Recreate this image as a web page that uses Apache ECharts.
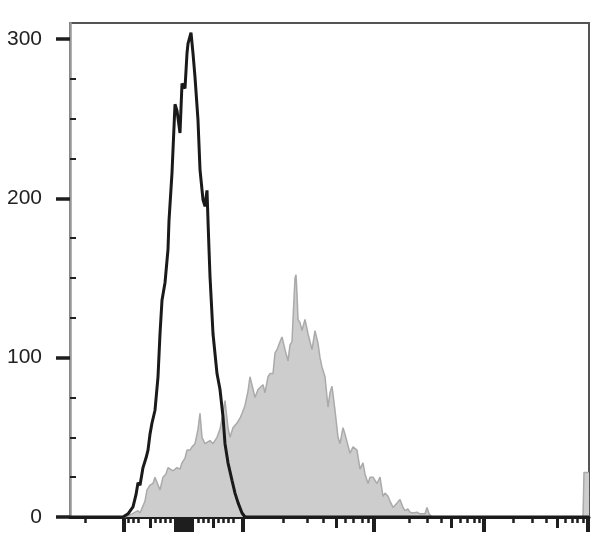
<!DOCTYPE html>
<html>
<head>
<meta charset="utf-8">
<script src="https://cdn.jsdelivr.net/npm/echarts@6/dist/echarts.min.js"></script>
<style>
html,body{margin:0;padding:0;background:#fff;}
#chart{width:608px;height:545px;}
</style>
</head>
<body>
<div id="chart"></div>
<script>
// Channel positions (display units) and event counts
const isoChannel = [0,53,58,63,66,68,70,73,76,78,80,82,85,88,90,92,95,98,99,102,105,107,110,112,115,117,118,121,123,125,128,130,133,135,137,138,139,140,143,147,150,153,155,158,162,165,168,172,175,519];
const isoCount   = [0,0,2,6.3,14,21.5,20,31,37,42,52,59,67,88,115,136,147,168,186,216,259,255,241,272,269,291,297,304,291,276,249,218,199,195,205,186,168,151,115,90,80,63,46,34,23,15,9,2.5,0,0];

const stainChannel = [0,55,62,68,70,72,75,77,80,83,85,87,90,93,96,98,100,103,107,110,112,115,117,120,122,125,128,130,132,135,137,140,143,147,150,153,155,158,160,163,167,170,172,175,178,180,182,185,188,190,193,195,198,200,203,205,207,210,212,215,218,220,222,223,225,226,227,228,230,232,235,238,240,242,245,248,250,252,255,258,260,262,265,268,270,273,275,277,280,283,287,290,293,295,298,300,303,307,310,313,315,318,320,323,326,330,333,335,338,340,343,347,350,352,355,357,359,362,513,514,519];
const stainCount   = [0,0,2,4,2.5,2.5,10,17,20,21,25,25,17,25,27,31,30,29,31,30,34,37,42,42,44,46,55,65,50,46,46,48,46,50,55,65,73,56,50,56,59,62,65,70,79,88,88,75,80,80,83,78,88,90,90,103,105,110,113,105,98,108,110,124,150,152,140,124,122,117,124,115,110,105,117,109,100,94,88,69,78,82,67,50,46,56,52,53,40,44,42,30,34,27,21,25,25,21,25,13,15,13,10,6,8,11,6,4,5,3,2.5,3,2,3,2,6,2,0,0,28,28];

const yMajorTicks = [0,100,200,300];
const yMinorTicks = [25,50,75,125,150,175,225,250,275];
const xMajorTicks = [54,106,108,110,112,114,116,118,120,122,173,304,414,518];
const xMidTicks   = [80,143,266,381,487];
const xMinorTicks = [15,58,63,68,85,90,95,100,128,133,138,148,153,158,163,213,237,253,275,283,292,298,339,357,371,390,397,404,409,443,462,476,495,502,507,513];

const chart = echarts.init(document.getElementById('chart'), null, {renderer:'canvas'});
const FONT = '"Liberation Sans", Arial, sans-serif';

function xAx(ticks, len, w, showLine){
  return {
    type:'value', min:0, max:519, position:'bottom',
    axisLine:{show:showLine, onZero:false, lineStyle:{color:'#1e1e1e', width:3}},
    axisTick:{show:true, customValues:ticks, length:len, lineStyle:{color:'#1e1e1e', width:w}},
    axisLabel:{show:false}, splitLine:{show:false}
  };
}

chart.setOption({
  animation:false,
  backgroundColor:'#ffffff',
  grid:{left:70, right:19, top:23, bottom:28, show:true, borderColor:'#555', borderWidth:2, backgroundColor:'transparent'},
  xAxis:[
    xAx(xMinorTicks, 6, 2.5, true),
    xAx(xMidTicks, 11, 3, false),
    xAx(xMajorTicks, 15, 4, false)
  ],
  yAxis:[
    {type:'value', min:0, max:310,
     axisLine:{show:true, lineStyle:{color:'#999', width:2.5}},
     axisTick:{show:true, customValues:yMajorTicks, length:14, lineStyle:{color:'#1e1e1e', width:3.5}},
     axisLabel:{show:true, customValues:yMajorTicks, fontSize:21, color:'#222', margin:28, fontFamily:FONT},
     splitLine:{show:false}},
    {type:'value', min:0, max:310,
     axisLine:{show:false},
     axisTick:{show:true, customValues:yMinorTicks, length:6, lineStyle:{color:'#222', width:2}},
     axisLabel:{show:false}, splitLine:{show:false}}
  ],
  series:[
    {type:'line', xAxisIndex:0, yAxisIndex:0, symbol:'none', z:2,
     data: stainChannel.map((c,i)=>[c, stainCount[i]]),
     lineStyle:{color:'#aaaaaa', width:1.5},
     areaStyle:{color:'#cdcdcd', opacity:1}},
    {type:'line', xAxisIndex:0, yAxisIndex:0, symbol:'none', z:3,
     data: isoChannel.map((c,i)=>[c, isoCount[i]]),
     lineStyle:{color:'#1a1a1a', width:3}}
  ]
});
</script>
</body>
</html>
